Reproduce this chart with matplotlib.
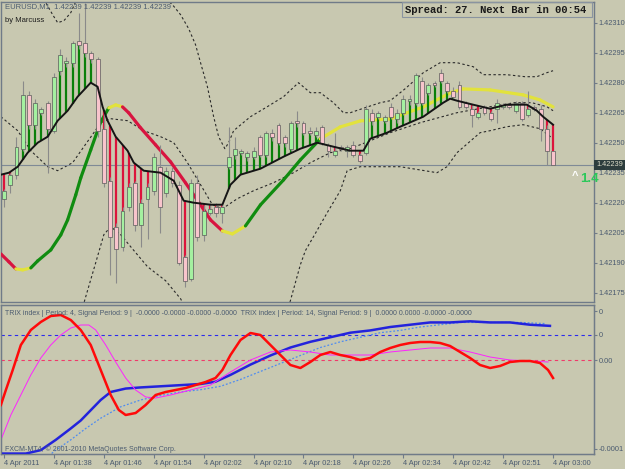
import numpy as np
import matplotlib
matplotlib.use('Agg')
import matplotlib.pyplot as plt
from matplotlib.collections import LineCollection
from matplotlib.patches import Rectangle

BG = '#c8c8b0'
FG = '#4b5b70'
FRAME = '#707b88'
W, H = 625, 469

# EURUSD M1 candles, prices in points above 1.42000
opens = [222, 229, 234, 247, 274, 259, 265, 270, 256, 286, 290, 290, 301, 300, 295, 292,
         257, 231, 208, 198, 218, 230, 209, 222, 226, 238, 225, 236, 229, 193, 182, 230,
         204, 215, 218, 215, 238, 244, 245, 243, 243, 253, 244, 255, 259, 253, 247, 261,
         260, 256, 254, 258, 249, 244, 248, 246, 249, 244, 245, 265, 263, 261, 268, 262,
         265, 271, 270, 281, 275, 280, 285, 280, 276, 279, 270, 267, 263, 268, 265, 267,
         268, 269, 266, 270, 264, 268, 267, 257, 246]
closes = [226, 234, 248, 274, 259, 270, 267, 257, 283, 294, 291, 300, 299, 295, 292, 256,
          230, 203, 197, 216, 228, 209, 220, 228, 243, 218, 236, 230, 190, 181, 230, 203,
          216, 217, 215, 218, 243, 247, 246, 245, 246, 244, 255, 253, 250, 250, 260, 260,
          255, 255, 256, 250, 246, 246, 247, 248, 244, 241, 267, 261, 265, 263, 263, 265,
          272, 272, 284, 270, 279, 279, 281, 276, 273, 268, 268, 264, 265, 265, 262, 270,
          269, 268, 270, 262, 267, 267, 257, 246, 239]
highs = [227, 235, 253, 281, 276, 272, 268, 271, 285, 297, 293, 301, 315, 320, 296, 293,
         266, 233, 210, 218, 230, 231, 222, 230, 245, 249, 238, 238, 231, 194, 232, 234,
         219, 220, 220, 220, 258, 253, 247, 246, 248, 254, 256, 257, 260, 254, 261, 266,
         261, 258, 258, 259, 250, 255, 249, 249, 251, 245, 269, 267, 266, 264, 270, 267,
         274, 274, 285, 283, 280, 281, 287, 281, 278, 281, 271, 269, 266, 269, 266, 272,
         270, 270, 271, 271, 276, 269, 269, 259, 246]
lows = [218, 225, 232, 246, 257, 257, 264, 235, 255, 284, 288, 288, 297, 293, 290, 253,
        228, 184, 180, 196, 216, 206, 198, 202, 224, 205, 223, 228, 189, 178, 181, 201,
        201, 214, 213, 210, 237, 242, 244, 241, 242, 243, 243, 251, 249, 248, 246, 258,
        254, 254, 253, 249, 243, 243, 246, 243, 243, 240, 244, 259, 262, 260, 262, 260,
        264, 269, 269, 269, 274, 278, 280, 275, 272, 267, 267, 258, 262, 264, 261, 260,
        267, 267, 265, 261, 263, 266, 251, 239, 239]
last_price = 239

# fast moving average (black)
ma_x = [-0.5, 0.8, 2.2, 3.8, 5.4, 7.0, 8.6, 10.2, 11.8, 13.9, 15.0, 15.8, 16.6, 17.9, 19.8, 20.8,
        22.4, 25.1, 27.2, 28.8, 30.4, 33.1, 35.0, 36.3, 37.9, 41.1, 44.8, 47.5, 50.2, 52.8, 55.5,
        57.6, 58.7, 61.4, 63.5, 67.2, 70.4, 71.5, 72.6, 75.2, 77.9, 80.6, 83.8, 85.4, 86.4, 88.0]
ma_y = [234, 235, 238, 245, 250, 253, 261, 266, 273, 280, 278, 268, 261, 253, 246, 240,
        236, 235, 231, 221, 220, 219, 219, 229, 234, 237, 243, 247, 250, 248, 246,
        246, 252, 255, 258, 263, 270, 272, 271, 269, 267, 269, 269, 266, 263, 259]

# slow moving average, coloured by slope
slow_x = [-0.5, 0.8, 1.9, 3.0, 4.3, 5.4, 7.5, 9.1, 10.2, 11.5, 12.3, 13.9, 15.5, 16.8, 17.9, 19.0,
          20.0, 21.9, 24.3, 26.7, 29.1, 31.5, 33.1, 35.0, 36.6, 38.7, 41.1, 44.8, 47.5, 50.7,
          53.9, 57.1, 61.9, 67.2, 71.5, 73.6, 77.9, 83.2, 85.9, 88.0]
slow_y = [194.4, 190.4, 186.9, 186.4, 187.4, 190.9, 196.4, 203.9, 211.4, 223.9, 232.4, 246.4,
          260.4, 267.4, 268.9, 267.9, 264.9, 257.4, 248.9, 240.4, 229.9, 218.9, 211.4, 205.9,
          204.4, 208.4, 218.9, 231.4, 241.4, 251.9, 257.9, 260.9, 261.9, 267.9, 274.9, 276.9,
          276.4, 273.9, 271.4, 267.9]

# bollinger bands (dotted)
up_x = [5.1, 6.7, 7.8, 8.6, 9.6, 10.7, 12.0, 13.1, 24.3, 25.9, 27.0, 28.3, 29.6, 30.7, 31.5, 32.6,
        33.6, 34.4, 35.4, 36.0, 36.8, 39.5, 42.2, 44.8, 47.2, 49.1, 50.7, 52.8, 54.4, 55.5, 57.4,
        60.3, 61.9, 64.3, 67.2, 69.9, 72.6, 75.2, 76.8, 80.6, 83.5, 85.4, 87.0, 88.0]
up_y = [329, 320, 314, 310, 311, 315, 324, 331, 329, 322, 319, 314, 307, 299, 290, 278,
        263, 253, 247, 250, 256, 263, 268, 273, 280, 275, 275, 270, 265, 265, 267,
        270, 271, 277, 285, 290, 290, 288, 284, 284, 283, 283, 285, 286]
mid_x = [-0.5, 2.2, 4.3, 7.0, 8.6, 11.0, 12.8, 14.4, 15.5, 17.1, 19.8, 22.4, 25.1, 27.2, 29.4,
         31.5, 33.4, 35.0, 37.4, 40.0, 43.2, 46.4, 49.1, 52.3, 55.5, 58.7, 61.9, 66.7, 72.6,
         77.9, 81.8, 84.6, 87.0, 88.0]
mid_y = [263, 256, 246, 238, 236, 240, 248, 255, 260, 262, 261, 256, 253, 250, 240,
         229, 219, 217, 222, 226, 230, 235, 240, 245, 247, 251, 255, 260, 265,
         268, 270, 270, 268, 266]
lo_x = [12.0, 13.1, 14.7, 16.0, 17.1, 18.7, 20.3, 23.0, 25.9, 28.3, 29.6, 44.3, 45.9, 47.5, 48.3,
        49.6, 51.8, 53.9, 55.0, 57.1, 63.5, 69.4, 71.0, 72.6, 76.3, 77.9, 80.6, 83.2, 85.9, 88.0]
lo_y = [161, 173, 190, 204, 208, 204, 198, 188, 181, 172, 164, 156, 171, 189, 196,
        203, 215, 226, 236, 238, 238, 235, 238, 245, 255, 256, 258, 259, 257, 252]

# TRIX(4) and signal, in 1e-6
trix4_x = [-0.5, 0.3, 1.4, 2.7, 4.3, 5.9, 7.5, 9.1, 10.7, 12.3, 13.9, 15.5, 17.1, 18.4, 19.5, 21.1,
           22.7, 24.3, 25.9, 27.5, 29.1, 30.7, 32.3, 33.9, 35.0, 36.3, 37.9, 39.5, 41.1, 42.7,
           44.3, 45.9, 47.5, 49.1, 50.7, 52.3, 53.9, 55.5, 57.1, 58.7, 60.3, 61.9, 63.5, 65.1,
           66.7, 68.3, 69.9, 71.5, 73.1, 74.7, 76.3, 77.9, 79.5, 81.1, 82.7, 84.3, 85.9, 87.2, 88.0]
trix4_y = [-45, -30, -10, 15, 30, 38, 44, 45, 40, 30, 15, -10, -35, -50, -55, -53,
           -45, -35, -32, -30, -28, -25, -22, -18, -10, 5, 20, 27, 25, 15,
           5, -5, -8, -2, 5, 8, 5, 3, 0, 2, 8, 12, 15, 17,
           18, 18, 17, 14, 8, 2, -5, -8, -6, -2, -1, -1, -3, -10, -18]
sig4_x = [-0.5, 1.1, 2.7, 4.3, 5.9, 7.5, 9.1, 10.7, 12.3, 13.6, 14.7, 16.3, 17.9, 19.5, 21.1, 22.7,
          24.3, 26.7, 29.9, 33.1, 36.3, 39.5, 42.7, 45.9, 49.1, 52.3, 55.5, 58.7, 61.9, 65.1,
          68.3, 71.5, 74.7, 77.9, 81.1, 84.3, 87.2]
sig4_y = [-80, -55, -35, -15, 2, 15, 25, 32, 35, 35, 30, 15, -2, -18, -30, -37,
          -38, -35, -30, -25, -12, 0, 8, 10, 8, 5, 5, 5, 8, 10,
          12, 12, 8, 3, 0, -1, -2]

# TRIX(14) and signal, in 1e-6
trix14_x = [-0.5, 3.5, 5.9, 8.3, 10.7, 12.3, 13.9, 15.5, 17.1, 19.5, 21.9, 25.1, 28.3, 31.5, 33.9,
            36.3, 39.5, 42.7, 45.9, 49.1, 52.3, 55.5, 58.7, 61.9, 65.1, 68.3, 71.5, 74.7, 77.9,
            81.1, 84.3, 87.5]
trix14_y = [-104, -104, -101, -92, -82, -75, -66, -57, -50, -47, -46, -45, -44, -43, -41,
            -35, -26, -18, -11, -6, -2, 2, 4, 7, 9, 11, 11, 12, 11,
            11, 9, 8]
sig14_x = [6.7, 8.3, 10.7, 13.1, 15.5, 18.7, 21.9, 25.1, 28.3, 31.5, 34.7, 37.9, 41.1, 44.3, 47.5,
           50.7, 53.9, 57.1, 60.3, 63.5, 66.7, 69.9, 73.1, 76.3, 79.5, 82.7, 86.7]
sig14_y = [-108, -101, -92, -82, -73, -63, -57, -53, -50, -48, -45, -39, -32, -25, -18,
           -11, -6, -2, 2, 4, 7, 9, 11, 11, 11, 11, 10]

time_pos = [0, 8, 16, 24, 32, 40, 48, 56, 64, 72, 80, 88]
time_labels = ['4 Apr 2011', '4 Apr 01:38', '4 Apr 01:46', '4 Apr 01:54', '4 Apr 02:02',
               '4 Apr 02:10', '4 Apr 02:18', '4 Apr 02:26', '4 Apr 02:34', '4 Apr 02:42',
               '4 Apr 02:51', '4 Apr 03:00']
price_ticks = [175, 190, 205, 220, 235, 250, 265, 280, 295, 310]

plt.rcParams['font.family'] = ['Liberation Sans', 'DejaVu Sans']

fig = plt.figure(figsize=(W / 100, H / 100), dpi=100, facecolor=BG)


def fx(px):
    return px / W


def fy(py):
    return 1 - py / H


ax = fig.add_axes([fx(1), fy(302), fx(593), 300 / H], facecolor=BG)
ax_i = fig.add_axes([fx(1), fy(454), fx(593), 149 / H], facecolor=BG, sharex=ax)

x0 = (0 - 3) / 6.25
x1 = (594 - 3) / 6.25
ax.set_xlim(x0, x1)
ax.set_ylim(170.35, 320.35)

for a in (ax, ax_i):
    for s in a.spines.values():
        s.set_color(FRAME)
        s.set_linewidth(1)

# bands
for bx, by in ((up_x, up_y), (mid_x, mid_y), (lo_x, lo_y)):
    ax.plot(bx, by, color='#2a2a2a', lw=0.8, ls=(0, (2.2, 2.2)), zorder=2)

# slow MA coloured by slope
sx = np.array(slow_x)
sy = np.array(slow_y)
segs = np.stack([np.column_stack([sx[:-1], sy[:-1]]), np.column_stack([sx[1:], sy[1:]])], axis=1)
slope = np.diff(sy) / np.diff(sx)
seg_cols = np.where(slope > 2.0, '#108c10', np.where(slope < -2.0, '#d81440', '#e2e23c'))
ax.add_collection(LineCollection(segs, colors=seg_cols, linewidths=2.3, capstyle='round',
                                 zorder=3))

# current price line
ax.axhline(last_price, color='#7f8a96', lw=0.8, zorder=2.5)

# histogram between price and fast MA
idx = np.arange(len(opens))
o = np.array(opens)
c = np.array(closes)
ma_at = np.interp(idx, ma_x, ma_y)
body_lo = np.minimum(o, c)
body_hi = np.maximum(o, c)
up = body_lo > ma_at
dn = body_hi < ma_at
ax.vlines(idx[up], ma_at[up], body_lo[up], color='#0a800a', lw=1.6, zorder=4)
ax.vlines(idx[dn], body_hi[dn], ma_at[dn], color='#dc143c', lw=1.6, zorder=4)

# candles
ax.vlines(idx, lows, highs, color='#8a8a8a', lw=0.8, zorder=5)
bull = c >= o
ax.bar(idx[bull], np.maximum(c - o, 0.4)[bull], bottom=o[bull], width=0.62,
       color='#a4f0a0', edgecolor='#5a5a5a', lw=0.5, zorder=6)
ax.bar(idx[~bull], (o - c)[~bull], bottom=c[~bull], width=0.62,
       color='#f8c4cc', edgecolor='#5a5a5a', lw=0.5, zorder=6)

ax.plot(ma_x, ma_y, color='#151515', lw=1.4, zorder=7)

ax.yaxis.tick_right()
ax.set_yticks(price_ticks)
ax.set_yticklabels([f'{1.42 + v / 1e5:.5f}' for v in price_ticks])
ax.tick_params(axis='y', length=2, width=0.8, color=FRAME, labelcolor=FG, labelsize=5.3, pad=1.5)
ax.tick_params(axis='x', bottom=False, labelbottom=False)

# price arrow label, cut by the pane edge as on screen
ax.text(0.962, 0.42, '^', transform=ax.transAxes, color='white', fontsize=8,
        fontweight='bold', va='center', zorder=9)
ax.text(0.976, 0.41, '1.4', transform=ax.transAxes, color='#2cc85a', fontsize=9.5,
        fontweight='bold', va='center', zorder=9)

# indicator pane
ax_r = ax_i.twinx()
ax_i.yaxis.tick_right()
ax_i.set_ylim(-104.4, 26.3)
ax_r.set_ylim(-94, 55)
ax_i.axhline(0, color='#2a2aee', lw=0.8, ls=(0, (3, 3)), zorder=1)
ax_r.axhline(0, color='#f03a6a', lw=0.8, ls=(0, (3, 3)), zorder=1)
ax_i.plot(sig14_x, sig14_y, color='#4f8cf0', lw=0.9, ls=(0, (1.5, 1.5)), zorder=2)
ax_i.plot(trix14_x, trix14_y, color='#2323dc', lw=1.8, zorder=3)
ax_r.plot(sig4_x, sig4_y, color='#ff22ff', lw=0.7, zorder=2)
ax_r.plot(trix4_x, trix4_y, color='#ff0a0a', lw=1.8, zorder=3)
ax_i.set_yticks([21, 0, -100])
ax_i.set_yticklabels(['0', '0', '-0.0001'])
ax_r.set_yticks([0])
ax_r.set_yticklabels(['0.00'])
for a in (ax_i, ax_r):
    a.tick_params(axis='y', length=2, width=0.8, color=FRAME, labelcolor=FG, labelsize=5.3,
                  pad=1.5)
    for s in a.spines.values():
        s.set_color(FRAME)
ax_i.set_xticks(time_pos)
ax_i.set_xticklabels(time_labels, ha='left')
ax_i.tick_params(axis='x', length=3, width=0.8, color=FRAME, labelcolor=FG, labelsize=5.3,
                 pad=1.5)

# header texts
fig.text(fx(5), fy(7), 'EURUSD,M1  1.42239 1.42239 1.42239 1.42239', color=FG, fontsize=5.5,
         va='center')
fig.text(fx(5), fy(20), 'by Marcuss', color='#1e1e1e', fontsize=5.5, va='center')
fig.add_artist(Rectangle((fx(402), fy(17)), fx(592 - 402), 15 / H, transform=fig.transFigure,
                         fill=False, ec='#8a94a0', lw=0.8))
fig.text(fx(405), fy(10), 'Spread: 27. Next Bar in 00:54', family='Liberation Mono',
         fontweight='bold', color='#1a1a1a', fontsize=7.6, va='center')
fig.text(fx(596), fy(165), '1.42239', color='#dcdcc8', fontsize=5.3, va='center',
         bbox=dict(boxstyle='square,pad=0.25', fc='#2d3d3d', ec='none'))
fig.text(fx(5), fy(313), 'TRIX index | Period: 4, Signal Period: 9 |  -0.0000 -0.0000 -0.0000 '
         '-0.0000  TRIX index | Period: 14, Signal Period: 9 |  0.0000 0.0000 -0.0000 -0.0000',
         color=FG, fontsize=5.0, va='center')
fig.text(fx(5), fy(449), 'FXCM-MT4, \u00a9 2001-2010 MetaQuotes Software Corp.', color=FG,
         fontsize=5.0, va='center')

fig.savefig('out.png', dpi=100, facecolor=BG)
